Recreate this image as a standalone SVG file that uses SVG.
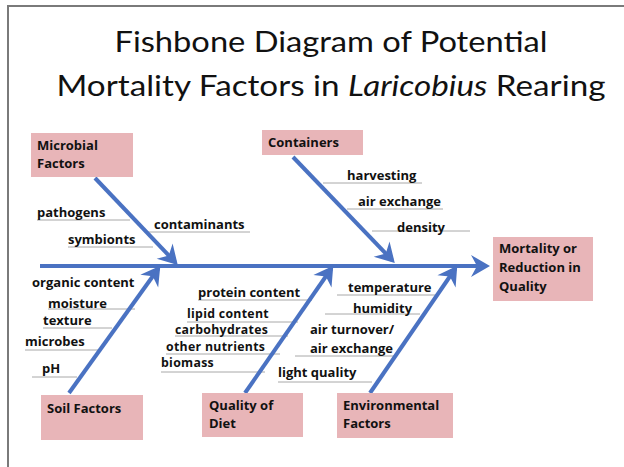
<svg xmlns="http://www.w3.org/2000/svg" width="624" height="467" viewBox="0 0 624 467">
<defs>
<style>
.title{font-family:Lato,"Open Sans","Liberation Sans",sans-serif;font-size:29px;fill:#111;text-anchor:middle}
.lbl{font-family:"Open Sans","Liberation Sans",sans-serif;font-weight:bold;font-size:13px;fill:#111}
.sm{font-size:12.3px;letter-spacing:0.3px}
.box{fill:#e8b5b8}
.bone{stroke:#4a72c2;stroke-width:4;fill:none;marker-end:url(#arr)}
.ul{stroke:#a8a8a8;stroke-width:1}
</style>
<marker id="arr" markerUnits="userSpaceOnUse" markerWidth="40" markerHeight="40" viewBox="-20 -20 40 40" refX="0" refY="0" orient="auto">
<path d="M4,0 L-15,-11 L-9,0 L-15,11 Z" fill="#4a72c2"/>
</marker>
</defs>
<rect width="624" height="467" fill="#fff"/>
<path d="M8,467 V6 H624" fill="none" stroke="#7a7a7a" stroke-width="2"/>
<g id="title">
<text class="title" x="331" y="52" textLength="433" lengthAdjust="spacingAndGlyphs">Fishbone Diagram of Potential</text>
<text class="title" x="331" y="96" textLength="549" lengthAdjust="spacingAndGlyphs">Mortality Factors in <tspan font-style="italic">Laricobius</tspan> Rearing</text>
</g>
<g id="underlines">
<line class="ul" x1="37" y1="220" x2="130" y2="220"/>
<line class="ul" x1="68" y1="247" x2="153" y2="247"/>
<line class="ul" x1="147" y1="232" x2="250" y2="232"/>
<line class="ul" x1="323" y1="183" x2="422" y2="183"/>
<line class="ul" x1="347" y1="209" x2="443" y2="209"/>
<line class="ul" x1="372" y1="231" x2="470" y2="231"/>
<line class="ul" x1="48" y1="309" x2="135" y2="309"/>
<line class="ul" x1="43" y1="328" x2="112" y2="328"/>
<line class="ul" x1="25" y1="350" x2="100" y2="350"/>
<line class="ul" x1="32" y1="377" x2="77" y2="377"/>
<line class="ul" x1="198" y1="300" x2="312" y2="300"/>
<line class="ul" x1="187" y1="322" x2="298" y2="322"/>
<line class="ul" x1="175" y1="336" x2="288" y2="336"/>
<line class="ul" x1="166" y1="354" x2="280" y2="354"/>
<line class="ul" x1="161" y1="372" x2="265" y2="372"/>
<line class="ul" x1="337" y1="295" x2="435" y2="295"/>
<line class="ul" x1="325" y1="314" x2="420" y2="314"/>
<line class="ul" x1="295" y1="356" x2="395" y2="356"/>
<line class="ul" x1="278" y1="382" x2="372" y2="382"/>
</g>
<g id="connectors">
<line class="bone" x1="40" y1="266" x2="486" y2="266"/>
<line class="bone" x1="95" y1="178" x2="175" y2="262"/>
<line class="bone" x1="293" y1="157" x2="392" y2="260"/>
<line class="bone" x1="69" y1="393" x2="158" y2="269"/>
<line class="bone" x1="245" y1="393" x2="331" y2="269"/>
<line class="bone" x1="370" y1="393" x2="455" y2="269"/>
</g>
<g id="labels">
<text class="lbl" x="37" y="217">pathogens</text>
<text class="lbl" x="68" y="244">symbionts</text>
<text class="lbl" x="154" y="229">contaminants</text>
<text class="lbl" x="347" y="180">harvesting</text>
<text class="lbl" x="358" y="206">air exchange</text>
<text class="lbl" x="397" y="232">density</text>
<text class="lbl" x="32" y="287">organic content</text>
<text class="lbl" x="48" y="308">moisture</text>
<text class="lbl" x="43" y="325">texture</text>
<text class="lbl" x="25" y="346">microbes</text>
<text class="lbl" x="42" y="373">pH</text>
<text class="lbl" x="198" y="297">protein content</text>
<text class="lbl sm" x="187" y="318">lipid content</text>
<text class="lbl sm" x="175" y="334">carbohydrates</text>
<text class="lbl sm" x="166" y="351">other nutrients</text>
<text class="lbl sm" x="161" y="367">biomass</text>
<text class="lbl" x="348" y="292">temperature</text>
<text class="lbl" x="353" y="313">humidity</text>
<text class="lbl" x="310" y="334">air turnover/</text>
<text class="lbl" x="310" y="353">air exchange</text>
<text class="lbl" x="278" y="377">light quality</text>
</g>
<g id="node-microbial">
<rect class="box" x="31" y="133" width="102" height="44"/>
<text class="lbl" x="37" y="150">Microbial</text>
<text class="lbl" x="37" y="168">Factors</text>
</g>
<g id="node-containers">
<rect class="box" x="262" y="130" width="101" height="25"/>
<text class="lbl" x="268" y="147">Containers</text>
</g>
<g id="node-mortality">
<rect class="box" x="493" y="237" width="100" height="64"/>
<text class="lbl" x="499" y="253">Mortality or</text>
<text class="lbl" x="499" y="272">Reduction in</text>
<text class="lbl" x="499" y="291">Quality</text>
</g>
<g id="node-soil">
<rect class="box" x="41" y="395" width="102" height="45"/>
<text class="lbl" x="47" y="413">Soil Factors</text>
</g>
<g id="node-diet">
<rect class="box" x="202" y="393" width="101" height="44"/>
<text class="lbl" x="209" y="410">Quality of</text>
<text class="lbl" x="209" y="428">Diet</text>
</g>
<g id="node-environmental">
<rect class="box" x="337" y="393" width="116" height="45"/>
<text class="lbl" x="343" y="410">Environmental</text>
<text class="lbl" x="343" y="428">Factors</text>
</g>
</svg>
